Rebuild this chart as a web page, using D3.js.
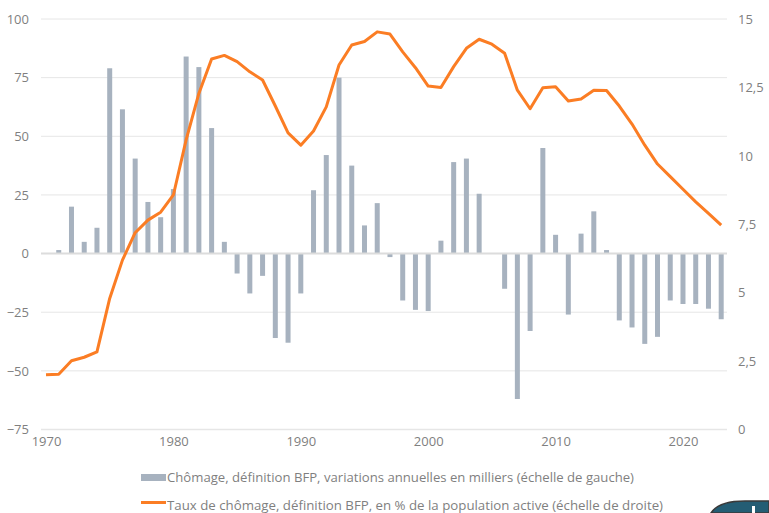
<!DOCTYPE html>
<html>
<head>
<meta charset="utf-8">
<script src="https://cdn.jsdelivr.net/npm/d3@7"></script>
<style>
  body { margin: 0; background: #fff; }
  svg text { font-family: "Open Sans", "Liberation Sans", sans-serif; fill: #7f7f7f; }
</style>
</head>
<body>
<svg id="chart" width="769" height="513"></svg>
<script>
// data
const years = d3.range(1970, 2024);
const chomageVar = [
  0, 1.5, 20, 5, 11, 79, 61.5, 40.5, 22, 15.5,
  27.5, 84, 79.5, 53.5, 5, -8.5, -17, -9.5, -36, -38,
  -17, 27, 42, 75, 37.5, 12, 21.5, -1.5, -20, -24,
  -24.5, 5.5, 39, 40.5, 25.5, 0, -15, -62, -33, 45,
  8, -26, 8.5, 18, 1.5, -28.5, -31.5, -38.5, -35.5, -20,
  -21.5, -21.5, -23.5, -28
];
const tauxChomage = [
  2.0, 2.02, 2.51, 2.64, 2.84, 4.79, 6.19, 7.19, 7.65, 7.94,
  8.57, 10.58, 12.28, 13.54, 13.67, 13.44, 13.07, 12.77, 11.82, 10.84,
  10.39, 10.91, 11.79, 13.32, 14.05, 14.18, 14.53, 14.45, 13.8, 13.22,
  12.55, 12.5, 13.26, 13.93, 14.26, 14.08, 13.75, 12.4, 11.72, 12.49,
  12.52, 12.0, 12.08, 12.4, 12.39, 11.82, 11.16, 10.39, 9.7, 9.24,
  8.78, 8.32, 7.9, 7.47
];
const leftTicks = [-75, -50, -25, 0, 25, 50, 75, 100];
const rightTicks = [0, 2.5, 5, 7.5, 10, 12.5, 15];
const xTicks = [1970, 1980, 1990, 2000, 2010, 2020];
const legendLabels = [
  "Chômage, définition BFP, variations annuelles en milliers (échelle de gauche)",
  "Taux de chômage, définition BFP, en % de la population active (échelle de droite)"
];

const barColor = "#a7b2bf";
const lineColor = "#fb7d24";

const svg = d3.select("#chart");
const plotLeft = 41, plotRight = 727;

const x = d3.scaleLinear().domain([1970, 2023]).range([46, 721.2]);
const yL = d3.scaleLinear().domain([-75, 100]).range([429.5, 19]);
const yR = d3.scaleLinear().domain([0, 15]).range([429.5, 19]);

// gridlines
svg.append("g").selectAll("line")
  .data(leftTicks.filter(d => d !== 0))
  .join("line")
  .attr("x1", plotLeft).attr("x2", plotRight)
  .attr("y1", d => yL(d)).attr("y2", d => yL(d))
  .attr("stroke", "#e6e6e6")
  .attr("stroke-width", d => d === -75 ? 1.5 : 1);

// left axis labels
const axisL = svg.append("g").attr("transform", `translate(${plotLeft},0)`)
  .call(d3.axisLeft(yL).tickValues(leftTicks).tickSize(0).tickPadding(12));
axisL.select(".domain").remove();
axisL.selectAll("text").style("font-size", "13px").attr("fill", "#7f7f7f");

// right axis labels
const axisR = svg.append("g").attr("transform", `translate(${plotRight},0)`)
  .call(d3.axisRight(yR).tickValues(rightTicks).tickSize(0).tickPadding(11)
    .tickFormat(d => String(d).replace(".", ",")));
axisR.select(".domain").remove();
axisR.selectAll("text").style("font-size", "13px").attr("fill", "#7f7f7f");

// x axis labels
const axisX = svg.append("g").attr("transform", "translate(0,430)")
  .call(d3.axisBottom(x).tickValues(xTicks).tickSize(0).tickPadding(7).tickFormat(d3.format("d")));
axisX.select(".domain").remove();
axisX.selectAll("text").style("font-size", "13px").attr("fill", "#7f7f7f");

// bars
const barW = 5;
svg.append("g").selectAll("rect")
  .data(years.map((yr, i) => ({ yr, v: chomageVar[i] })).filter(d => d.v !== 0))
  .join("rect")
  .attr("x", d => x(d.yr) - barW / 2)
  .attr("width", barW)
  .attr("y", d => yL(Math.max(0, d.v)))
  .attr("height", d => Math.abs(yL(d.v) - yL(0)))
  .attr("fill", barColor);

// zero line
svg.append("line")
  .attr("x1", plotLeft).attr("x2", plotRight)
  .attr("y1", yL(0)).attr("y2", yL(0))
  .attr("stroke", "#dcdcdc").attr("stroke-width", 2);

// line
svg.append("path")
  .datum(years.map((yr, i) => ({ yr, v: tauxChomage[i] })))
  .attr("fill", "none")
  .attr("stroke", lineColor)
  .attr("stroke-width", 3)
  .attr("stroke-linejoin", "round")
  .attr("d", d3.line().x(d => x(d.yr)).y(d => yR(d.v)));

// legend
const leg = svg.append("g");
leg.append("rect").attr("x", 141).attr("y", 474).attr("width", 25).attr("height", 7).attr("fill", barColor);
leg.append("line").attr("x1", 141).attr("x2", 166).attr("y1", 502.5).attr("y2", 502.5)
  .attr("stroke", lineColor).attr("stroke-width", 3);
leg.selectAll("text.lg")
  .data(legendLabels)
  .join("text")
  .attr("class", "lg")
  .attr("x", 167)
  .attr("y", (d, i) => 482 + i * 28)
  .attr("fill", "#707070")
  .style("font-size", "13px")
  .attr("textLength", (d, i) => i === 0 ? 467 : 496)
  .attr("lengthAdjust", "spacingAndGlyphs")
  .text(d => d);

// partially visible button at the bottom-right corner
svg.append("path")
  .attr("d", "M711,513 C716,505 728,501 745,501 L769,501 L769,513 Z")
  .attr("fill", "#245d74")
  .attr("stroke", "#3a3a3a")
  .attr("stroke-width", 1.5);
svg.append("rect").attr("x", 752).attr("y", 506).attr("width", 3).attr("height", 7).attr("fill", "#fff");
</script>
</body>
</html>
